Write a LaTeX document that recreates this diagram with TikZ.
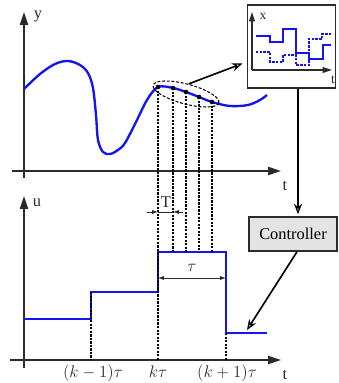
\documentclass[tikz,border=0pt]{standalone}
\usepackage{fontspec}
\setmainfont{Liberation Serif}
\usepackage{tikz}
\usetikzlibrary{
  arrows.meta,
  positioning,
  calc,
  shapes.geometric,
}
\definecolor{ink}{HTML}{2B2B2B}
\definecolor{sigblue}{HTML}{1414F0}
\definecolor{boxgray}{HTML}{E4E4E4}
\tikzset{
  axis/.style={draw=ink, line width=1.3pt, -{Triangle[length=11pt, width=7pt]}},
  axlabel/.style={font=\fontsize{14}{16}\selectfont, text=ink, inner sep=0pt},
  smalllabel/.style={font=\fontsize{11.5}{13}\selectfont, text=ink, inner sep=0pt},
  signal/.style={draw=sigblue, line width=2pt},
  thinsig/.style={draw=sigblue, line width=1.2pt},
  sampleline/.style={draw=black, line width=0.9pt, dash pattern=on 2pt off 1pt},
  dim/.style={draw=ink, line width=0.7pt},
  feed/.style={draw=black, line width=1.4pt, -{Stealth[open, length=9pt, width=7pt, line width=1.1pt]}},
  card/.style={draw=ink, line width=1.3pt, inner sep=0pt},
}

\begin{document}
\begin{tikzpicture}[x=0.03cm, y=-0.03cm]
  \useasboundingbox (0,0) rectangle (339,383);

  % upper plot: output y(t)
  \draw[axis] (24,178) -- (24,12);
  \node[axlabel] (ylab) at (38,17) {y};
  \draw[axis] (12,171) -- (281,171);
  \node[axlabel] (tup) at (285,186) {t};
  \draw[signal] plot[smooth, tension=0.55] coordinates {
    (24,89) (40,74) (55,64) (68,61) (80,65) (88,73) (93,88) (96,115)
    (98,140) (103,152) (110,154) (118,150) (125,143) (136,122) (147,100)
    (158,87) (173,88) (186,92) (199,97) (212,102) (230,106) (248,105)
    (260,100) (267,95)};

  % samples inside the window
  \foreach \px/\py [count=\i] in {158/87, 173/88, 186/92, 199/97, 212/102} {
    \coordinate (s\i) at (\px,\py);
    \fill[black] (s\i) circle (2.3);
  }
  \node[ellipse, draw=black, line width=0.9pt, dash pattern=on 2.5pt off 1.5pt,
    minimum width=58pt, minimum height=17pt, rotate=-15] (win) at (186,94) {};

  % lower plot: input u(t)
  \draw[axis] (24,368) -- (24,196);
  \node[axlabel] (ulab) at (37,203) {u};
  \draw[axis] (10,360) -- (281,360);
  \node[axlabel] (tdown) at (285,375) {t};

  \coordinate (u0) at (24,319);
  \coordinate (u1) at (91,292);
  \coordinate (u2) at (158,252);
  \coordinate (u3) at (226,333);
  \coordinate (u4) at (267,333);
  \draw[signal] (u0) -| (u1) -| (u2) -| (u3) -- (u4);

  \draw[sampleline] (u1) -- (u1 |- 0,360);
  \draw[sampleline] (s1) -- (s1 |- 0,360);
  \draw[sampleline] (u3) -- (u3 |- 0,360);
  \foreach \i in {2,...,5}
    \draw[sampleline] (s\i) -- (s\i |- u2);

  \node[axlabel, anchor=base] (km1) at (93,377) {$(k-1)\tau$};
  \node[axlabel, anchor=base] (kk) at (158,377) {$k\tau$};
  \node[axlabel, anchor=base] (kp1) at (227,377) {$(k+1)\tau$};

  % sampling period T and horizon tau
  \coordinate (ta) at (147,212);
  \coordinate (tb) at (183,212);
  \draw[dim, -{Latex[length=5pt, width=3.5pt]}] (ta) -- (s1 |- ta);
  \draw[dim, -{Latex[length=5pt, width=3.5pt]}] (tb) -- (s2 |- tb);
  \draw[dim] (s1 |- ta) -- (s2 |- tb);
  \node[axlabel] (tper) at (166,202) {T};

  \draw[dim, {Latex[length=5pt, width=3.5pt]}-{Latex[length=5pt, width=3.5pt]}]
    (158,278) coordinate (da) -- (226,278) coordinate (db);
  \node[axlabel] (tau) at ($(da)!0.5!(db)+(0,-10)$) {$\tau$};

  % inset: predicted states
  \node[card, minimum width=75.5pt, minimum height=70.5pt] (inset) at (291.5,46.5) {};
  \draw[draw=ink, line width=1.1pt, -{Triangle[length=8pt, width=5pt]}] (252,70) -- (252,12);
  \draw[draw=ink, line width=1.1pt, -{Triangle[length=8pt, width=5pt]}] (252,70) -- (332,70);
  \node[smalllabel] (xin) at (263,16) {x};
  \node[smalllabel] (tin) at (333,80) {t};
  \draw[thinsig] (256,36) -| (270,42) -| (283,29) -| (296,53) -| (309,59)
    -| (323,45) -- (331,45);
  \draw[thinsig, dash pattern=on 2pt off 1.2pt] (256,52) -| (270,62) -| (283,55)
    -| (296,65) -| (309,39) -| (322,34) -- (331,34);

  % controller
  \node[card, fill=boxgray, minimum width=75pt, minimum height=29pt,
    font=\fontsize{14}{16}\selectfont] (ctrl) at (293,234) {Controller};

  % feedback path
  \draw[feed] (win.north) -- ([shift={(-4,17)}]inset.west);
  \draw[feed] ([shift={(6.5,0)}]inset.south) -- ([shift={(5,-2)}]ctrl.north);
  \draw[feed] ([shift={(4,0)}]ctrl.south) -- ([shift={(-20,-3)}]u4);
\end{tikzpicture}
\end{document}
